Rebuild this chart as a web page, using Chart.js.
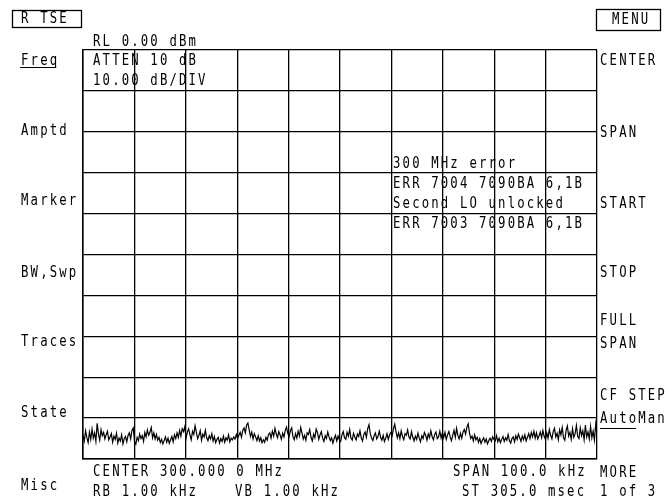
<!DOCTYPE html>
<html>
<head>
<meta charset="utf-8">
<script src="https://cdn.jsdelivr.net/npm/chart.js@4"></script>
<style>
  html, body { margin: 0; padding: 0; background: #fff; }
  #scr { display: block; }
</style>
</head>
<body>
<canvas id="scr" width="665" height="500"></canvas>
<script>
// analyzer settings (from the screen)
var refLevel = 0;        // dBm
var dbPerDiv = 10;
var spanKHz = 100;
var divisions = 10;

// trace, dBm, left to right (one row of 20 = half a division)
var traceDbm = [
  -94.2,-95.6,-93.1,-94.8,-96.0,-93.4,-95.2,-92.7,-94.9,-93.6,-95.7,-91.3,-93.9,-95.4,-92.8,-94.3,-93.5,-95.1,-94.0,-93.2,
  -95.3,-94.6,-93.8,-95.9,-94.4,-95.2,-93.7,-96.1,-94.9,-95.6,-94.1,-96.3,-95.0,-94.5,-95.8,-94.2,-93.6,-95.1,-93.0,-92.4,
  -95.8,-96.4,-94.7,-95.5,-93.9,-95.0,-94.3,-95.7,-93.5,-94.6,-92.9,-94.2,-93.4,-92.3,-94.8,-93.6,-95.1,-94.0,-95.4,-94.7,
  -96.0,-95.2,-96.3,-95.5,-94.6,-95.9,-94.9,-96.2,-95.3,-94.5,-95.8,-94.1,-95.0,-93.6,-94.7,-93.0,-94.4,-92.6,-93.3,-92.1,
  -94.9,-93.4,-92.6,-94.1,-95.3,-93.2,-94.0,-91.9,-93.5,-95.0,-94.2,-93.1,-95.4,-93.9,-94.6,-93.0,-94.8,-95.5,-94.3,-95.1,
  -93.8,-95.6,-94.5,-96.0,-95.2,-94.7,-96.1,-95.0,-95.7,-94.4,-95.9,-94.8,-95.4,-94.1,-95.8,-94.9,-95.3,-94.6,-95.1,-94.0,
  -95.0,-94.2,-93.5,-94.7,-93.0,-92.4,-93.6,-91.7,-91.2,-92.9,-94.5,-93.4,-95.1,-93.8,-94.6,-95.5,-94.3,-95.6,-94.8,-96.0,
  -95.3,-95.9,-94.7,-95.4,-94.0,-93.6,-94.9,-93.2,-94.4,-92.5,-93.9,-94.8,-93.3,-94.1,-95.2,-93.7,-94.6,-93.0,-92.2,-93.8,
  -94.5,-93.1,-92.4,-94.6,-95.3,-93.8,-94.9,-93.2,-94.4,-92.3,-93.7,-95.1,-94.2,-95.4,-93.6,-94.0,-92.8,-94.7,-95.6,-93.9,
  -94.8,-92.7,-93.5,-95.2,-94.1,-93.3,-94.9,-95.7,-94.3,-95.0,-93.4,-94.6,-95.5,-94.8,-96.1,-95.0,-94.2,-95.6,-94.4,-95.3,
  -95.7,-94.1,-93.3,-94.8,-95.2,-93.5,-94.4,-92.8,-94.9,-95.4,-93.7,-94.6,-95.3,-93.9,-94.5,-93.1,-94.8,-95.6,-94.0,-93.4,
  -94.7,-92.6,-91.6,-93.8,-94.9,-95.5,-94.3,-93.6,-95.1,-94.5,-93.2,-94.7,-95.4,-94.2,-95.7,-94.9,-93.8,-95.2,-94.1,-93.5,
  -94.3,-92.6,-91.5,-93.4,-94.8,-93.6,-95.0,-93.1,-94.5,-95.3,-93.8,-94.2,-92.9,-94.6,-95.1,-93.3,-94.7,-95.6,-94.4,-95.2,
  -93.7,-94.9,-95.8,-94.3,-95.0,-93.5,-94.2,-95.4,-93.9,-94.8,-93.1,-94.5,-95.3,-94.0,-93.4,-95.0,-94.6,-93.2,-94.9,-93.6,
  -94.8,-93.5,-95.2,-94.1,-93.3,-94.6,-95.5,-94.2,-93.0,-94.7,-92.5,-94.3,-95.1,-93.7,-94.9,-93.4,-92.8,-93.9,-92.2,-91.4,
  -93.6,-95.0,-94.4,-95.6,-94.1,-95.3,-94.7,-95.9,-95.0,-96.2,-95.4,-94.8,-95.9,-95.1,-96.3,-95.5,-94.9,-95.7,-94.6,-95.2,
  -95.6,-94.3,-95.8,-94.9,-96.0,-95.2,-94.5,-95.7,-94.8,-95.4,-94.0,-95.5,-96.1,-95.0,-94.6,-95.8,-94.3,-95.2,-93.9,-94.8,
  -95.7,-94.4,-95.3,-94.1,-95.6,-94.7,-93.8,-95.0,-93.5,-94.6,-93.2,-94.9,-93.6,-95.1,-94.3,-93.4,-94.8,-93.0,-94.5,-95.2,
  -93.6,-94.9,-92.8,-94.2,-95.1,-93.3,-92.5,-94.6,-93.7,-95.3,-92.9,-94.1,-92.3,-94.8,-95.4,-93.0,-91.9,-94.4,-93.5,-95.2,
  -92.6,-94.7,-93.8,-91.8,-94.5,-95.0,-92.4,-94.3,-93.1,-95.3,-91.7,-94.6,-93.4,-95.1,-92.0,-94.8,-93.2,-95.4,-91.5,-93.9
];

// screen annotations
var leftKeys = ["Freq", "Amptd", "Marker", "BW,Swp", "Traces", "State", "Misc"];
var rightKeys = ["CENTER", "SPAN", "START", "STOP", "FULL", "SPAN", "CF STEP", "AutoMan", "MORE", "1 of 3"];
var topInfo = ["RL 0.00 dBm", "ATTEN 10 dB", "10.00 dB/DIV"];
var errLines = ["300 MHz error", "ERR 7004 7090BA 6,1B", "Second LO unlocked", "ERR 7003 7090BA 6,1B"];
var bottomInfo = ["CENTER 300.000 0 MHz", "RB 1.00 kHz", "VB 1.00 kHz", "SPAN 100.0 kHz", "ST 305.0 msec"];

var pts = traceDbm.map(function (v, i) {
  return { x: -spanKHz / 2 + i * spanKHz / (traceDbm.length - 1), y: v };
});

var PITCH = 9.55;
function txt(ctx, s, x, y) {
  // fixed pitch, like the instrument's stroke font
  for (var i = 0; i < s.length; i++) {
    var c = s[i];
    if (c === ' ') continue;
    ctx.save();
    ctx.translate(x + i * PITCH + PITCH / 2, y);
    ctx.scale(0.82, 1);
    ctx.fillText(c, 0, 0);
    ctx.restore();
  }
}
function uline(ctx, x, y, n) {
  ctx.beginPath();
  ctx.moveTo(x, y + 0.5);
  ctx.lineTo(x + n * PITCH - 2, y + 0.5);
  ctx.stroke();
}

var screenText = {
  id: 'screenText',
  beforeDraw: function (chart) {
    var ctx = chart.ctx;
    ctx.save();
    ctx.fillStyle = '#fff';
    ctx.fillRect(0, 0, chart.width, chart.height);
    ctx.restore();
  },
  afterDraw: function (chart) {
    var ctx = chart.ctx;
    ctx.save();
    ctx.fillStyle = '#000';
    ctx.strokeStyle = '#000';
    ctx.font = '15px "DejaVu Sans Mono"';
    ctx.textAlign = 'center';
    ctx.textBaseline = 'alphabetic';

    // boxes
    ctx.lineWidth = 1.3;
    ctx.strokeRect(12.5, 10.5, 69, 17);
    ctx.strokeRect(596.5, 9.5, 64, 21);
    txt(ctx, "R TSE", 20, 23);
    txt(ctx, "MENU", 611, 24);

    // left softkey group
    var ly = [65, 135, 205, 277, 346, 417, 490];
    leftKeys.forEach(function (s, i) { txt(ctx, s, 20, ly[i]); });
    ctx.lineWidth = 1;
    uline(ctx, 20, 67, 4);

    // right softkeys
    var ry = [65, 137, 208, 277, 325, 348, 400, 423, 477, 496];
    rightKeys.forEach(function (s, i) { txt(ctx, s, 599, ry[i]); });
    uline(ctx, 600, 428, 4);

    // top info
    txt(ctx, topInfo[0], 92, 46);
    txt(ctx, topInfo[1], 92, 65);
    txt(ctx, topInfo[2], 92, 85);

    // error messages
    var ey = [168, 188, 208, 228];
    errLines.forEach(function (s, i) { txt(ctx, s, 392, ey[i]); });

    // bottom annotations
    txt(ctx, bottomInfo[0], 92, 476);
    txt(ctx, bottomInfo[1], 92, 496);
    txt(ctx, bottomInfo[2], 234, 496);
    txt(ctx, bottomInfo[3], 452, 476);
    txt(ctx, bottomInfo[4], 461, 496);
    ctx.restore();
  }
};

new Chart(document.getElementById('scr'), {
  type: 'line',
  data: {
    datasets: [{
      data: pts,
      borderColor: '#000',
      borderWidth: 1.2,
      pointRadius: 0,
      tension: 0,
      fill: false
    }]
  },
  options: {
    responsive: false,
    animation: false,
    events: [],
    layout: { padding: { left: 83, right: 68, top: 50, bottom: 41 } },
    plugins: { legend: { display: false }, tooltip: { enabled: false } },
    scales: {
      x: {
        type: 'linear',
        min: -spanKHz / 2,
        max: spanKHz / 2,
        ticks: { display: false, stepSize: spanKHz / divisions },
        grid: { color: '#000', lineWidth: 1.3, drawTicks: false },
        border: { color: '#000', width: 1.5 }
      },
      y: {
        min: refLevel - dbPerDiv * divisions,
        max: refLevel,
        ticks: { display: false, stepSize: dbPerDiv },
        grid: { color: '#000', lineWidth: 1.3, drawTicks: false },
        border: { color: '#000', width: 1.5 }
      }
    }
  },
  plugins: [screenText]
});
</script>
</body>
</html>
